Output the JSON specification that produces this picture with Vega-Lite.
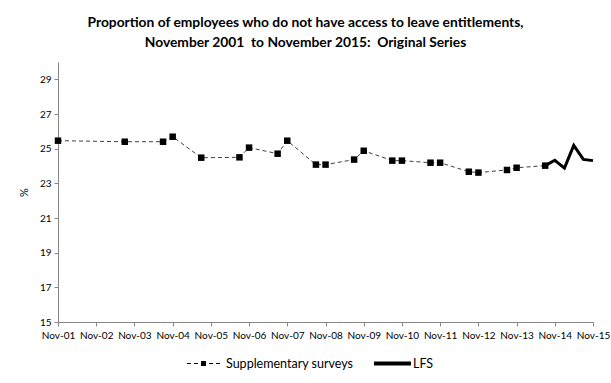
{
  "$schema": "https://vega.github.io/schema/vega-lite/v6.json",
  "width": 535,
  "height": 260,
  "autosize": {"type": "none"},
  "padding": {"left": 58, "top": 62, "right": 18, "bottom": 61},
  "background": "white",
  "title": {
    "text": ["Proportion of employees who do not have access to leave entitlements,", "November 2001\u00a0 to November 2015:\u00a0 Original Series"],
    "font": "Lato",
    "fontSize": 13.8,
    "fontWeight": "bold",
    "color": "black",
    "anchor": "middle",
    "dx": -20,
    "offset": 12,
    "lineHeight": 20
  },
  "config": {
    "view": {"stroke": null},
    "axis": {"grid": false, "domainColor": "#868686", "tickColor": "#868686", "tickSize": 4, "labelFont": "Lato", "labelFontSize": 10, "labelColor": "black", "titleFont": "Lato", "titleFontWeight": "normal", "titleFontSize": 11, "titleColor": "black"}
  },
  "data": {
    "values": [
      {"date": "2001-11-01", "value": 25.46, "series": "Supplementary surveys"},
      {"date": "2003-08-01", "value": 25.40, "series": "Supplementary surveys"},
      {"date": "2004-08-01", "value": 25.40, "series": "Supplementary surveys"},
      {"date": "2004-11-01", "value": 25.69, "series": "Supplementary surveys"},
      {"date": "2005-08-01", "value": 24.48, "series": "Supplementary surveys"},
      {"date": "2006-08-01", "value": 24.50, "series": "Supplementary surveys"},
      {"date": "2006-11-01", "value": 25.06, "series": "Supplementary surveys"},
      {"date": "2007-08-01", "value": 24.71, "series": "Supplementary surveys"},
      {"date": "2007-11-01", "value": 25.46, "series": "Supplementary surveys"},
      {"date": "2008-08-01", "value": 24.08, "series": "Supplementary surveys"},
      {"date": "2008-11-01", "value": 24.08, "series": "Supplementary surveys"},
      {"date": "2009-08-01", "value": 24.37, "series": "Supplementary surveys"},
      {"date": "2009-11-01", "value": 24.88, "series": "Supplementary surveys"},
      {"date": "2010-08-01", "value": 24.31, "series": "Supplementary surveys"},
      {"date": "2010-11-01", "value": 24.31, "series": "Supplementary surveys"},
      {"date": "2011-08-01", "value": 24.19, "series": "Supplementary surveys"},
      {"date": "2011-11-01", "value": 24.19, "series": "Supplementary surveys"},
      {"date": "2012-08-01", "value": 23.67, "series": "Supplementary surveys"},
      {"date": "2012-11-01", "value": 23.62, "series": "Supplementary surveys"},
      {"date": "2013-08-01", "value": 23.77, "series": "Supplementary surveys"},
      {"date": "2013-11-01", "value": 23.90, "series": "Supplementary surveys"},
      {"date": "2014-08-01", "value": 24.02, "series": "Supplementary surveys"},
      {"date": "2014-08-01", "value": 24.02, "series": "LFS"},
      {"date": "2014-11-01", "value": 24.33, "series": "LFS"},
      {"date": "2015-02-01", "value": 23.88, "series": "LFS"},
      {"date": "2015-05-01", "value": 25.19, "series": "LFS"},
      {"date": "2015-08-01", "value": 24.38, "series": "LFS"},
      {"date": "2015-11-01", "value": 24.31, "series": "LFS"}
    ]
  },
  "encoding": {
    "x": {
      "field": "date", "type": "temporal",
      "scale": {"type": "utc", "domain": [{"year": 2001, "month": 11, "date": 1, "utc": true}, {"year": 2015, "month": 11, "date": 1, "utc": true}]},
      "axis": {
        "title": null, "format": "%b-%y", "labelFlush": false, "labelOverlap": false, "labelPadding": 4,
        "values": [
          {"year": 2001, "month": 11, "date": 1, "utc": true},
          {"year": 2002, "month": 11, "date": 1, "utc": true},
          {"year": 2003, "month": 11, "date": 1, "utc": true},
          {"year": 2004, "month": 11, "date": 1, "utc": true},
          {"year": 2005, "month": 11, "date": 1, "utc": true},
          {"year": 2006, "month": 11, "date": 1, "utc": true},
          {"year": 2007, "month": 11, "date": 1, "utc": true},
          {"year": 2008, "month": 11, "date": 1, "utc": true},
          {"year": 2009, "month": 11, "date": 1, "utc": true},
          {"year": 2010, "month": 11, "date": 1, "utc": true},
          {"year": 2011, "month": 11, "date": 1, "utc": true},
          {"year": 2012, "month": 11, "date": 1, "utc": true},
          {"year": 2013, "month": 11, "date": 1, "utc": true},
          {"year": 2014, "month": 11, "date": 1, "utc": true},
          {"year": 2015, "month": 11, "date": 1, "utc": true}
        ]
      }
    },
    "y": {
      "field": "value", "type": "quantitative",
      "scale": {"domain": [15, 30], "nice": false, "zero": false},
      "axis": {"title": "%", "values": [15, 17, 19, 21, 23, 25, 27, 29], "labelPadding": 3, "titlePadding": 10}
    }
  },
  "layer": [
    {
      "transform": [{"filter": "datum.series === 'Supplementary surveys'"}],
      "mark": {"type": "line", "color": "#404040", "strokeWidth": 1, "strokeDash": [4, 3]}
    },
    {
      "transform": [{"filter": "datum.series === 'LFS'"}],
      "mark": {"type": "line", "color": "black", "strokeWidth": 3}
    },
    {
      "transform": [{"filter": "datum.series === 'Supplementary surveys'"}],
      "mark": {"type": "point", "shape": "square", "filled": true, "color": "black", "opacity": 1, "size": 42}
    },
    {
      "mark": {"type": "point", "filled": true, "color": "black", "opacity": 0},
      "encoding": {
        "shape": {
          "field": "series", "type": "nominal",
          "scale": {
            "domain": ["Supplementary surveys", "LFS"],
            "range": [
              "M-1,-0.03H-0.76V0.03H-1Z M-0.58,-0.03H-0.34V0.03H-0.58Z M-0.15,-0.15H0.15V0.15H-0.15Z M0.34,-0.03H0.58V0.03H0.34Z M0.76,-0.03H1V0.03H0.76Z",
              "M-1,-0.12H1.24V0.12H-1Z"
            ]
          },
          "legend": {
            "title": null, "orient": "none", "legendX": 129, "legendY": 285, "direction": "horizontal",
            "symbolSize": 1089, "symbolOpacity": 1, "symbolFillColor": "black", "symbolStrokeWidth": 0,
            "labelFont": "Lato", "labelFontSize": 12.5, "labelColor": "black", "labelOffset": 6, "columnPadding": 20
          }
        }
      }
    }
  ]
}
